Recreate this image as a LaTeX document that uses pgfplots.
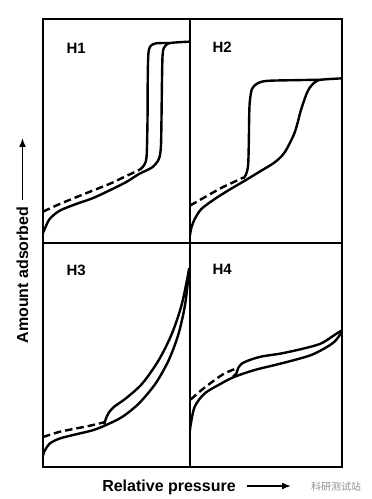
\documentclass[border=0pt]{standalone}
\usepackage{pgfplots}
\pgfplotsset{compat=1.18}
\usepackage{fontspec}
\setmainfont{Liberation Sans}
\newfontfamily\cjk{Noto Sans CJK SC}
\usetikzlibrary{arrows.meta}
\begin{document}
\begin{tikzpicture}[x=1pt,y=1pt]
\useasboundingbox (0,0) rectangle (372,499);
\pgfplotsset{
  panel/.style={scale only axis, xmin=0,xmax=1,ymin=0,ymax=1, ticks=none,
    axis line style={line width=2.2pt}, anchor=south west},
  iso/.style={black, line width=2.4pt, smooth, no marks, tension=0.5},
  dsh/.style={black, line width=2.4pt, smooth, no marks, dash pattern=on 7.5pt off 4pt},
}
% H1
\begin{axis}[panel, at={(43pt,256pt)}, width=147pt, height=224pt]
\addplot[iso] coordinates {(0.0,0.045)(0.01,0.06)(0.045,0.107)(0.113,0.144)(0.225,0.174)(0.338,0.2)(0.45,0.234)(0.563,0.271)(0.653,0.308)(0.743,0.338)(0.788,0.375)(0.802,0.43)(0.806,0.554)(0.81,0.75)(0.815,0.851)(0.833,0.881)(0.867,0.893)(1,0.899)};
\addplot[iso] coordinates {(0.867,0.893)(0.766,0.891)(0.728,0.876)(0.716,0.836)(0.712,0.7)(0.711,0.554)(0.705,0.39)(0.69,0.35)(0.66,0.328)};
\addplot[dsh] coordinates {(0,0.14)(0.113,0.174)(0.225,0.204)(0.338,0.234)(0.45,0.263)(0.563,0.298)(0.66,0.328)};
\end{axis}
% H2
\begin{axis}[panel, at={(190pt,256pt)}, width=152pt, height=224pt]
\addplot[iso] coordinates {(0.0,0.035)(0.01,0.07)(0.031,0.107)(0.075,0.152)(0.162,0.196)(0.25,0.234)(0.36,0.278)(0.469,0.323)(0.557,0.36)(0.623,0.405)(0.689,0.494)(0.732,0.598)(0.776,0.68)(0.82,0.717)(0.864,0.729)(1,0.735)};
\addplot[iso] coordinates {(0.864,0.729)(0.7,0.727)(0.513,0.724)(0.447,0.714)(0.408,0.688)(0.393,0.628)(0.389,0.55)(0.387,0.45)(0.382,0.345)(0.366,0.302)(0.349,0.288)};
\addplot[dsh] coordinates {(0,0.167)(0.096,0.204)(0.206,0.246)(0.294,0.274)(0.349,0.292)};
\end{axis}
% H3
\begin{axis}[panel, at={(43pt,32pt)}, width=147pt, height=224pt]
\addplot[iso] coordinates {(0.0,0.05)(0.007,0.067)(0.045,0.104)(0.113,0.127)(0.225,0.146)(0.338,0.164)(0.428,0.187)(0.54,0.224)(0.653,0.284)(0.766,0.373)(0.856,0.478)(0.923,0.597)(0.968,0.731)(0.995,0.888)};
\addplot[iso] coordinates {(0.995,0.888)(0.946,0.731)(0.878,0.597)(0.788,0.478)(0.676,0.373)(0.563,0.306)(0.484,0.269)(0.445,0.24)(0.425,0.21)(0.417,0.19)};
\addplot[dsh] coordinates {(0,0.134)(0.113,0.157)(0.225,0.172)(0.338,0.187)(0.417,0.2)};
\end{axis}
% H4
\begin{axis}[panel, at={(190pt,32pt)}, width=152pt, height=224pt]
\addplot[iso] coordinates {(0.0,0.16)(0.004,0.187)(0.031,0.269)(0.096,0.328)(0.206,0.373)(0.294,0.403)(0.425,0.433)(0.557,0.455)(0.689,0.478)(0.798,0.5)(0.886,0.53)(0.952,0.56)(0.996,0.6)};
\addplot[iso] coordinates {(0.996,0.609)(0.952,0.59)(0.864,0.552)(0.754,0.53)(0.601,0.507)(0.469,0.493)(0.382,0.475)(0.338,0.46)(0.316,0.44)(0.305,0.418)(0.283,0.403)};
\addplot[dsh] coordinates {(0.004,0.301)(0.075,0.343)(0.162,0.388)(0.228,0.418)(0.305,0.44)};
\end{axis}
% panel labels
\node[anchor=base west, font=\fontsize{15}{15}\selectfont\bfseries] at (63,445) {H1};
\node[anchor=base west, font=\fontsize{15}{15}\selectfont\bfseries] at (209,446) {H2};
\node[anchor=base west, font=\fontsize{15}{15}\selectfont\bfseries] at (63,223) {H3};
\node[anchor=base west, font=\fontsize{15}{15}\selectfont\bfseries] at (209,224) {H4};
% axis titles
\node[anchor=base, rotate=90, inner sep=0pt, font=\fontsize{16}{16}\selectfont\bfseries] at (28,224) {Amount adsorbed};
\draw[line width=1.6pt, -{Latex[length=9pt,width=7pt]}] (22.5,299) -- (22.5,361);
\node[anchor=base, inner sep=0pt, font=\fontsize{16}{16}\selectfont\bfseries] at (169,7) {Relative pressure};
\draw[line width=1.6pt, -{Latex[length=9pt,width=7pt]}] (247,13) -- (291,13);
\node[anchor=base, inner sep=0pt, text=black!45, font=\cjk\fontsize{10}{10}\selectfont] at (336,9) {科研测试站};
\end{tikzpicture}
\end{document}
